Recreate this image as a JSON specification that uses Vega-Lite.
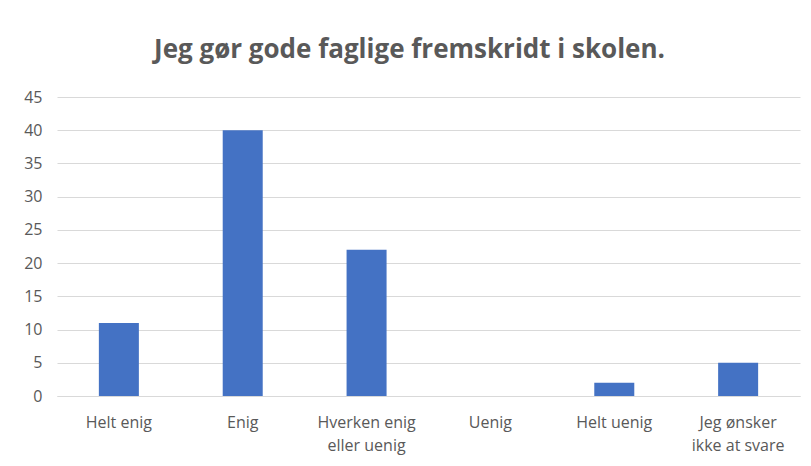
{
  "$schema": "https://vega.github.io/schema/vega-lite/v6.json",
  "autosize": "none",
  "width": 743,
  "height": 299,
  "padding": {"left": 57, "top": 97, "right": 11, "bottom": 70},
  "background": "white",
  "title": {
    "text": "Jeg gør gode faglige fremskridt i skolen.",
    "font": "Open Sans",
    "fontSize": 26,
    "fontWeight": "bold",
    "color": "#595959",
    "anchor": "middle",
    "frame": "group",
    "offset": 26,
    "dx": -19
  },
  "data": {
    "values": [
      {"svar": "Helt enig", "antal": 11},
      {"svar": "Enig", "antal": 40},
      {"svar": "Hverken enig eller uenig", "antal": 22},
      {"svar": "Uenig", "antal": 0},
      {"svar": "Helt uenig", "antal": 2},
      {"svar": "Jeg ønsker ikke at svare", "antal": 5}
    ]
  },
  "mark": {"type": "bar", "color": "#4472c4"},
  "encoding": {
    "x": {
      "field": "svar",
      "type": "nominal",
      "sort": null,
      "scale": {"paddingInner": 0.677, "paddingOuter": 0.338},
      "axis": {
        "title": null,
        "labelAngle": 0,
        "labelFont": "Open Sans",
        "labelFontSize": 16,
        "labelColor": "#595959",
        "labelPadding": 18,
        "labelLineHeight": 23,
        "labelExpr": "datum.label == 'Hverken enig eller uenig' ? ['Hverken enig', 'eller uenig'] : datum.label == 'Jeg ønsker ikke at svare' ? ['Jeg ønsker', 'ikke at svare'] : datum.label",
        "ticks": false,
        "domainColor": "#d9d9d9",
        "domainWidth": 1
      }
    },
    "y": {
      "field": "antal",
      "type": "quantitative",
      "scale": {"domain": [0, 45]},
      "axis": {
        "title": null,
        "values": [0, 5, 10, 15, 20, 25, 30, 35, 40, 45],
        "labelFont": "Open Sans",
        "labelFontSize": 16,
        "labelColor": "#595959",
        "labelPadding": 15,
        "ticks": false,
        "domain": false,
        "gridColor": "#d9d9d9",
        "gridWidth": 1
      }
    }
  },
  "config": {"view": {"stroke": null}}
}
